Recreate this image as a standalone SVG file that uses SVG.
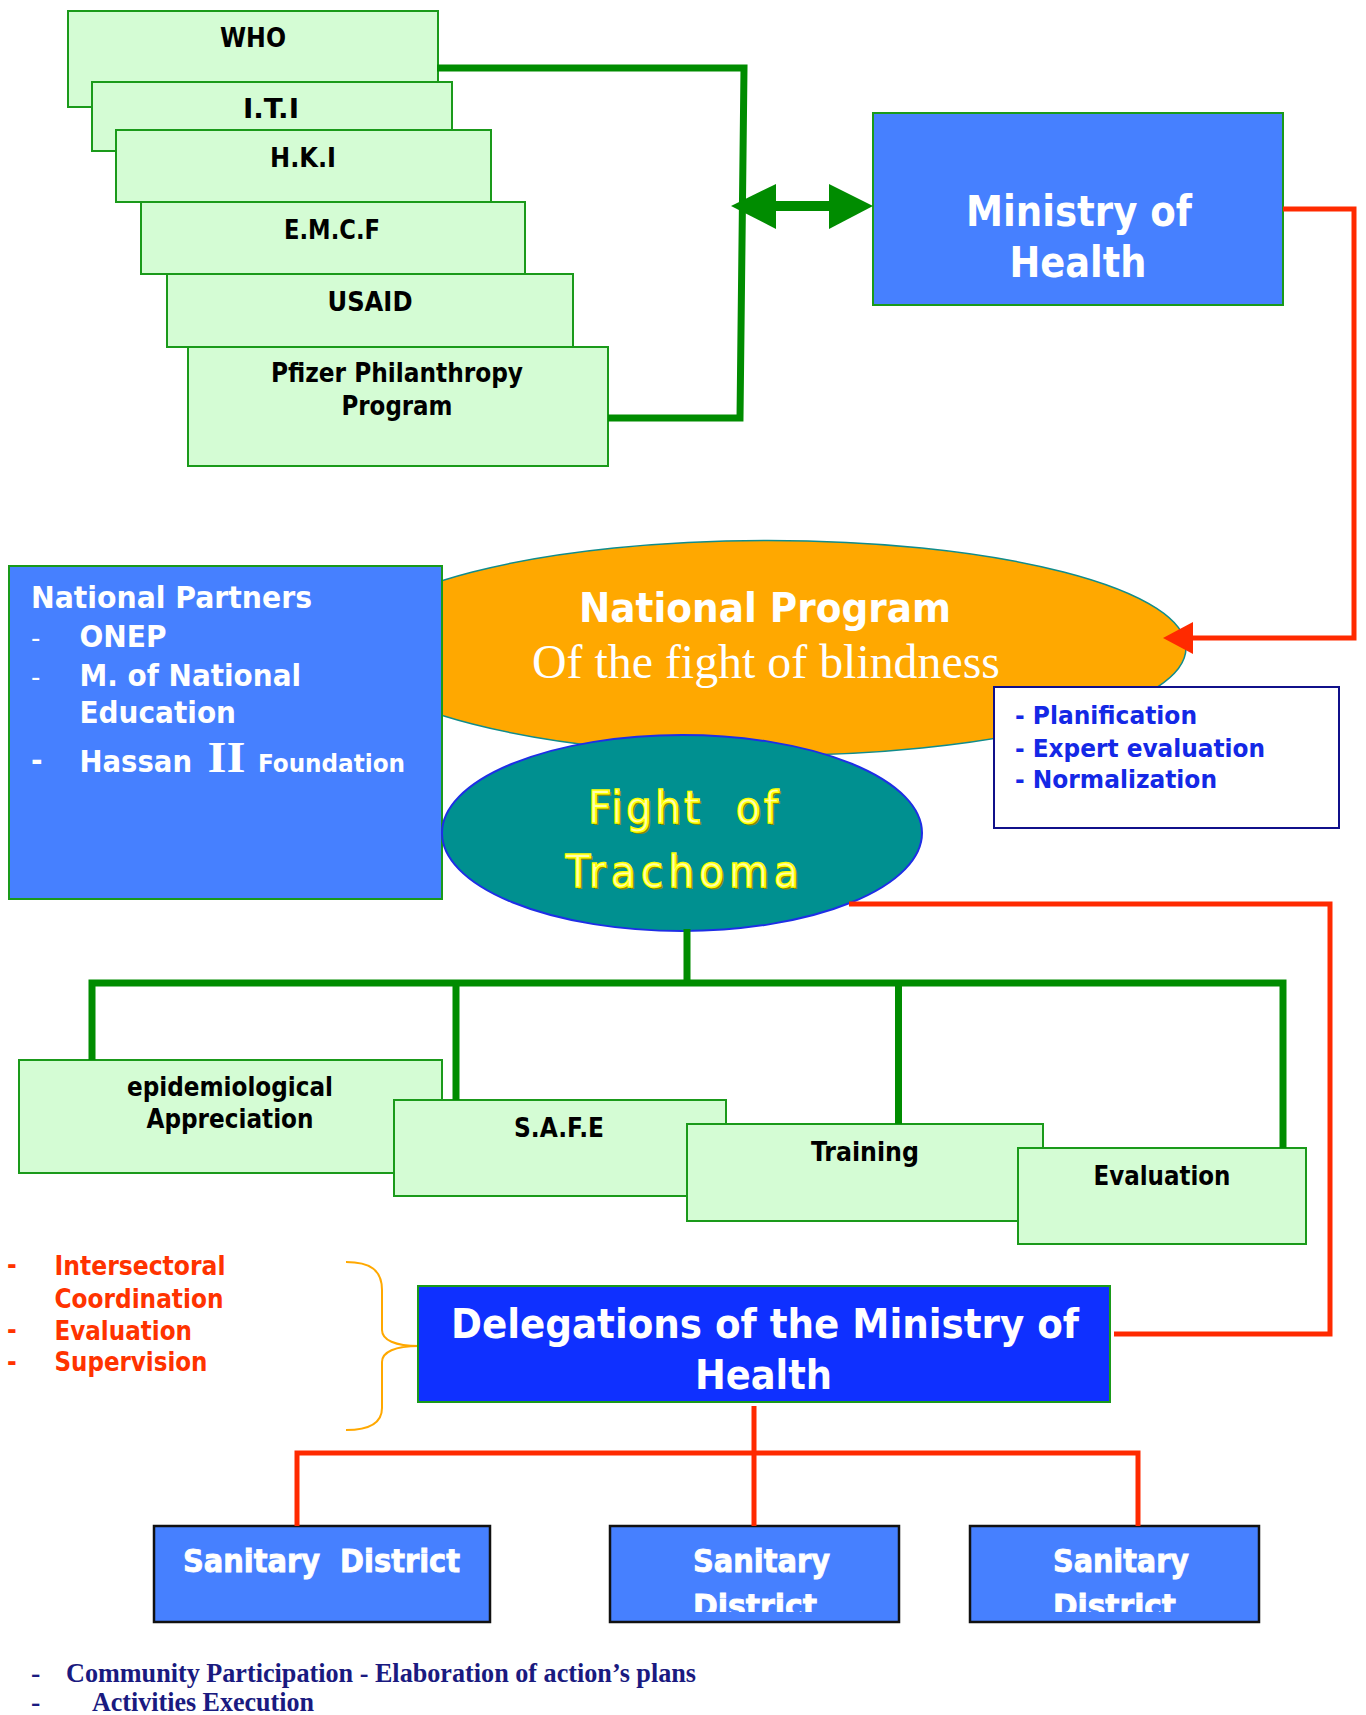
<svg xmlns="http://www.w3.org/2000/svg" width="1366" height="1715" viewBox="0 0 1366 1715">
<style>
.lg{fill:#D4FCD4;stroke:#1A9A1A;stroke-width:2}
.bl{fill:#4680FF;stroke:#1A9A1A;stroke-width:2}
.sd{fill:#4680FF;stroke:#111;stroke-width:2.5}
.t{font-family:"DejaVu Sans Condensed","DejaVu Sans",sans-serif;font-weight:bold;font-stretch:condensed}
.tn{font-family:"DejaVu Sans Condensed","DejaVu Sans",sans-serif;font-weight:normal;font-stretch:condensed;font-size:45px;text-anchor:middle}
.k{fill:#000;font-size:26px}
.c{text-anchor:middle}
.w{fill:#fff}
.r{fill:#FF3300;font-size:26px}
.b{fill:#1428E6;font-size:24px}
.sr{font-family:"Liberation Serif","Times New Roman",serif}
.gl{fill:none;stroke:#008C00;stroke-width:7}
.rl{fill:none;stroke:#FF2A00;stroke-width:5}
.ys{fill:#8A8A00}
.yf{fill:#FFFFB0;stroke:#FFFF00;stroke-width:1.5}
</style>
<defs>
<clipPath id="c2"><rect x="610" y="1526" width="289" height="86"/></clipPath>
<clipPath id="c3"><rect x="970" y="1526" width="289" height="86"/></clipPath>
</defs>
<rect width="1366" height="1715" fill="#fff"/>

<g id="who"><rect class="lg" x="68" y="11" width="370" height="96"/><text class="t k c" x="253" y="47" textLength="66" lengthAdjust="spacingAndGlyphs">WHO</text></g>
<g id="iti"><rect class="lg" x="92" y="82" width="360" height="69"/><text class="t k c" x="271" y="118" textLength="56" lengthAdjust="spacingAndGlyphs">I.T.I</text></g>
<g id="hki"><rect class="lg" x="116" y="130" width="375" height="72"/><text class="t k c" x="303" y="167" textLength="66" lengthAdjust="spacingAndGlyphs">H.K.I</text></g>
<g id="emcf"><rect class="lg" x="141" y="202" width="384" height="72"/><text class="t k c" x="332" y="239" textLength="96" lengthAdjust="spacingAndGlyphs">E.M.C.F</text></g>
<g id="usaid"><rect class="lg" x="167" y="274" width="406" height="73"/><text class="t k c" x="370" y="311" textLength="85" lengthAdjust="spacingAndGlyphs">USAID</text></g>
<g id="pfizer"><rect class="lg" x="188" y="347" width="420" height="119"/><text class="t k c" x="397" y="382" textLength="252" lengthAdjust="spacingAndGlyphs">Pfizer Philanthropy</text><text class="t k c" x="397" y="415" textLength="111" lengthAdjust="spacingAndGlyphs">Program</text></g>

<g id="ministry"><rect class="bl" x="873" y="113" width="410" height="192"/><text class="t w c" font-size="42" x="1079" y="226" textLength="226" lengthAdjust="spacingAndGlyphs">Ministry of</text><text class="t w c" font-size="42" x="1078" y="277" textLength="137" lengthAdjust="spacingAndGlyphs">Health</text></g>

<g id="national-program"><ellipse cx="768" cy="648" rx="418" ry="107.5" fill="#FFA800" stroke="#108C8C" stroke-width="1.5"/><text class="t w c" font-size="41" x="765" y="622" textLength="372" lengthAdjust="spacingAndGlyphs">National Program</text><text class="sr w c" font-size="48" x="766" y="678" textLength="468" lengthAdjust="spacingAndGlyphs">Of the fight of blindness</text></g>

<g id="national-partners"><rect class="bl" x="9" y="566" width="433" height="333"/>
<text class="t w" font-size="31" x="31" y="608" textLength="281" lengthAdjust="spacingAndGlyphs">National Partners</text>
<text class="w" font-family="DejaVu Sans,sans-serif" font-size="26" x="31" y="647">-</text>
<text class="t w" font-size="31" x="79.5" y="647" textLength="87" lengthAdjust="spacingAndGlyphs">ONEP</text>
<text class="w" font-family="DejaVu Sans,sans-serif" font-size="26" x="31" y="686">-</text>
<text class="t w" font-size="31" x="79.5" y="686" textLength="221.5" lengthAdjust="spacingAndGlyphs">M. of National</text>
<text class="t w" font-size="31" x="79.5" y="723" textLength="156.5" lengthAdjust="spacingAndGlyphs">Education</text>
<text class="t w" font-size="31" x="31" y="771">-</text>
<text class="t w" font-size="31" x="79.5" y="772" textLength="112.5" lengthAdjust="spacingAndGlyphs">Hassan</text>
<text class="sr w" font-weight="bold" font-size="44" x="207.6" y="772" textLength="38" lengthAdjust="spacingAndGlyphs">II</text>
<text class="t w" font-size="25" x="258" y="772" textLength="147" lengthAdjust="spacingAndGlyphs">Foundation</text>
</g>

<g id="trachoma"><ellipse cx="682" cy="833" rx="240" ry="98" fill="#009090" stroke="#1E2EE6" stroke-width="2"/>
<text class="tn ys" xml:space="preserve" x="685" y="825" textLength="190" lengthAdjust="spacing">Fight  of</text>
<text class="tn yf" xml:space="preserve" x="683" y="823" textLength="190" lengthAdjust="spacing">Fight  of</text>
<text class="tn ys" x="684" y="889" textLength="233" lengthAdjust="spacing">Trachoma</text>
<text class="tn yf" x="682" y="887" textLength="233" lengthAdjust="spacing">Trachoma</text>
</g>

<g id="functions-box"><rect x="994" y="687" width="345" height="141" fill="#fff" stroke="#10108A" stroke-width="2"/>
<text class="t b" x="1015" y="724" textLength="182" lengthAdjust="spacingAndGlyphs">- Planification</text>
<text class="t b" x="1015" y="757" textLength="250" lengthAdjust="spacingAndGlyphs">- Expert evaluation</text>
<text class="t b" x="1015" y="788" textLength="202" lengthAdjust="spacingAndGlyphs">- Normalization</text>
</g>

<g id="epidemiological"><rect class="lg" x="19" y="1060" width="423" height="113"/><text class="t k c" x="230" y="1096" textLength="206" lengthAdjust="spacingAndGlyphs">epidemiological</text><text class="t k c" x="230" y="1128" textLength="167" lengthAdjust="spacingAndGlyphs">Appreciation</text></g>
<g id="safe"><rect class="lg" x="394" y="1100" width="332" height="96"/><text class="t k c" x="559" y="1137" textLength="90" lengthAdjust="spacingAndGlyphs">S.A.F.E</text></g>
<g id="training"><rect class="lg" x="687" y="1124" width="356" height="97"/><text class="t k c" x="865" y="1161" textLength="108" lengthAdjust="spacingAndGlyphs">Training</text></g>
<g id="evaluation"><rect class="lg" x="1018" y="1148" width="288" height="96"/><text class="t k c" x="1162" y="1185" textLength="137" lengthAdjust="spacingAndGlyphs">Evaluation</text></g>

<g id="roles">
<text class="t r" font-weight="normal" x="7" y="1274">-</text>
<text class="t r" x="54.5" y="1275" textLength="171" lengthAdjust="spacingAndGlyphs">Intersectoral</text>
<text class="t r" x="54.5" y="1308" textLength="169" lengthAdjust="spacingAndGlyphs">Coordination</text>
<text class="t r" font-weight="normal" x="7" y="1339">-</text>
<text class="t r" x="54.5" y="1340" textLength="137.5" lengthAdjust="spacingAndGlyphs">Evaluation</text>
<text class="t r" font-weight="normal" x="7" y="1371">-</text>
<text class="t r" x="54.5" y="1371" textLength="153" lengthAdjust="spacingAndGlyphs">Supervision</text>
<path d="M346,1262 C370,1262 382,1270 382,1290 V1330 C382,1340 395,1346 419,1346 C395,1346 382,1352 382,1362 V1408 C382,1422 370,1430 346,1430" fill="none" stroke="#FFA800" stroke-width="2"/>
</g>

<g id="delegations"><rect x="418" y="1286" width="692" height="116" fill="#0F30FF" stroke="#1A9A1A" stroke-width="2"/>
<text class="t w c" font-size="41" x="765" y="1338" textLength="628" lengthAdjust="spacingAndGlyphs">Delegations of the Ministry of</text>
<text class="t w c" font-size="41" x="763.5" y="1389" textLength="137" lengthAdjust="spacingAndGlyphs">Health</text></g>

<g id="district-1"><rect class="sd" x="154" y="1526" width="336" height="96"/><text class="t w" xml:space="preserve" font-size="32" stroke="#fff" stroke-width="0.8" x="183" y="1572" textLength="277" lengthAdjust="spacingAndGlyphs">Sanitary  District</text></g>
<g id="district-2"><rect class="sd" x="610" y="1526" width="289" height="96"/><text class="t w" font-size="32" stroke="#fff" stroke-width="0.8" x="693" y="1572" textLength="137" lengthAdjust="spacingAndGlyphs">Sanitary</text><text class="t w" font-size="32" stroke="#fff" stroke-width="0.8" clip-path="url(#c2)" x="693" y="1617" textLength="124" lengthAdjust="spacingAndGlyphs">District</text></g>
<g id="district-3"><rect class="sd" x="970" y="1526" width="289" height="96"/><text class="t w" font-size="32" stroke="#fff" stroke-width="0.8" x="1053" y="1572" textLength="136" lengthAdjust="spacingAndGlyphs">Sanitary</text><text class="t w" font-size="32" stroke="#fff" stroke-width="0.8" clip-path="url(#c3)" x="1053" y="1617" textLength="123" lengthAdjust="spacingAndGlyphs">District</text></g>

<g id="community" fill="#1A1A80" font-weight="bold" font-size="28" class="sr">
<text x="31" y="1682">-</text>
<text x="66" y="1682" textLength="630" lengthAdjust="spacingAndGlyphs">Community Participation - Elaboration of action’s plans</text>
<text x="31" y="1711">-</text>
<text x="92" y="1711" textLength="222" lengthAdjust="spacingAndGlyphs">Activities Execution</text>
</g>

<g id="connectors">
<path class="gl" stroke-width="6" d="M437,68 H744 L740,418 H608"/>
<path d="M770,206 H835" stroke="#008C00" stroke-width="10"/>
<polygon points="731,206 776,184 776,229" fill="#008C00"/>
<polygon points="873,206 829,184 829,229" fill="#008C00"/>
<path class="rl" d="M1283,209 H1354 V638 H1190"/>
<polygon points="1163,638 1193,622 1193,654" fill="#FF2A00"/>
<path class="gl" d="M687,929 V983 M92,1060 V983 H1283 V1148 M456,983 V1100 M898.5,983 V1124"/>
<path class="rl" d="M849,904 H1330 V1334 H1114"/>
<path class="rl" d="M754,1406 V1526 M297,1526 V1453 H1138 V1526"/>
</g>
</svg>
